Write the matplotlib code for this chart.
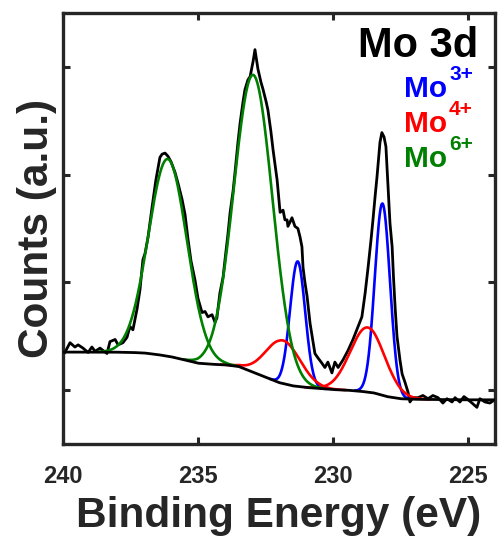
import numpy as np
import matplotlib
matplotlib.use("Agg")
import matplotlib.pyplot as plt

plt.rcParams['font.family'] = ['Liberation Sans', 'DejaVu Sans']
plt.rcParams['font.weight'] = 'bold'

# ---- measured spectrum (binding energy in eV, counts in arbitrary units) ----
energy = [239.93, 239.74, 239.56, 239.44, 239.26, 239.07, 238.93, 238.81, 238.63, 238.37,
          238.26, 238.07, 237.96, 237.78, 237.63, 237.52, 237.41, 237.26, 237.15, 237.04,
          236.96, 236.85, 236.70, 236.56, 236.41, 236.33, 236.22, 236.11, 236.00, 235.85,
          235.74, 235.59, 235.48, 235.37, 235.26, 235.11, 235.00, 234.85, 234.74, 234.63,
          234.48, 234.37, 234.30, 234.19, 234.07, 234.00, 233.89, 233.81, 233.70, 233.63,
          233.52, 233.44, 233.33, 233.26, 233.15, 233.07, 232.96, 232.89, 232.78, 232.67,
          232.59, 232.48, 232.41, 232.30, 232.22, 232.15, 232.07, 231.96, 231.85, 231.78,
          231.70, 231.67, 231.59, 231.52, 231.41, 231.30, 231.22, 231.15, 231.11, 231.04,
          230.96, 230.85, 230.74, 230.67, 230.56, 230.41, 230.30, 230.19, 230.04, 229.93,
          229.81, 229.63, 229.44, 229.26, 229.07, 228.93, 228.81, 228.70, 228.59, 228.52,
          228.44, 228.37, 228.26, 228.19, 228.11, 228.04, 227.96, 227.89, 227.81, 227.76,
          227.70, 227.63, 227.52, 227.44, 227.33, 227.22, 227.15, 227.04, 226.85, 226.67,
          226.48, 226.30, 226.11, 225.93, 225.78, 225.59, 225.48, 225.30, 225.15, 225.04,
          224.85, 224.67, 224.56, 224.37, 224.19, 224.07]
counts = [0.35, 0.44, 0.40, 0.42, 0.39, 0.35, 0.40, 0.36, 0.39, 0.34,
          0.45, 0.47, 0.42, 0.44, 0.49, 0.59, 0.56, 0.75, 0.93, 1.21,
          1.27, 1.42, 1.70, 1.95, 2.16, 2.19, 2.20, 2.17, 2.12, 2.02,
          1.92, 1.77, 1.63, 1.40, 1.20, 1.02, 0.85, 0.72, 0.73, 0.68,
          0.70, 0.63, 0.67, 0.90, 1.05, 1.21, 1.45, 1.65, 1.85, 2.02,
          2.30, 2.48, 2.68, 2.79, 2.88, 2.91, 3.05, 3.16, 2.98, 2.86,
          2.79, 2.68, 2.60, 2.40, 2.23, 2.10, 1.95, 1.65, 1.67, 1.58,
          1.58, 1.52, 1.56, 1.60, 1.52, 1.50, 1.42, 1.33, 1.14, 1.00,
          0.87, 0.62, 0.45, 0.34, 0.30, 0.25, 0.21, 0.26, 0.16, 0.26,
          0.21, 0.28, 0.37, 0.47, 0.59, 0.68, 0.90, 1.14, 1.40, 1.58,
          1.80, 1.98, 2.30, 2.39, 2.35, 2.26, 1.89, 1.55, 1.33, 1.05,
          0.77, 0.50, 0.28, 0.15, 0.07, -0.02, -0.11, -0.07, -0.07, -0.05,
          -0.08, -0.05, -0.07, -0.12, -0.08, -0.11, -0.07, -0.11, -0.06, -0.08,
          -0.12, -0.16, -0.08, -0.11, -0.12, -0.10]

# ---- Shirley background ----
bg_energy = [240.0, 239.0, 238.0, 237.5, 237.0, 236.5, 236.0, 235.5, 235.0, 234.5,
             234.0, 233.5, 233.0, 232.5, 232.0, 231.5, 231.0, 230.5, 230.0, 229.5,
             229.0, 228.5, 228.0, 227.5, 227.0, 226.0, 225.0, 224.0]
bg_counts = [0.353, 0.353, 0.352, 0.350, 0.345, 0.330, 0.310, 0.280, 0.250, 0.240,
             0.235, 0.220, 0.170, 0.120, 0.070, 0.040, 0.025, 0.015, 0.005, 0.000,
             -0.010, -0.025, -0.060, -0.080, -0.085, -0.088, -0.090, -0.090]

# ---- fitted components: (centre eV, height, FWHM eV) ----
mo3_peaks = [(228.17, 1.78, 0.66), (231.31, 1.16, 0.66)]
mo4_peaks = [(228.72, 0.60, 1.50), (231.85, 0.40, 1.50)]
mo6_peaks = [(232.95, 2.76, 1.68), (236.12, 1.83, 1.68)]

species = ['Mo', 'Mo', 'Mo']
charges = ['3+', '4+', '6+']
colors = ['#0000ff', '#ff0000', '#008000']

xticks = [240, 235, 230, 225]
yticks = [0, 1, 2, 3]

fig = plt.figure(figsize=(4.98, 5.46), dpi=100)
ax = fig.add_axes([63 / 498, 1 - 444 / 546, 432 / 498, 431 / 546])

ax.plot(energy, counts, color='black', lw=2.0, zorder=2)

grid = np.linspace(240, 224, 1601)
bg_grid = np.interp(grid, bg_energy[::-1], bg_counts[::-1])
for peaks, col in zip([mo3_peaks, mo4_peaks, mo6_peaks], colors):
    for c, h, w in peaks:
        s = w / 2.3548
        m = np.abs(grid - c) < 3.6 * s
        g = h * np.exp(-0.5 * ((grid[m] - c) / s) ** 2)
        ax.plot(grid[m], bg_grid[m] + g, color=col, lw=1.9, zorder=3)
ax.plot(grid, bg_grid, color='black', lw=2.0, zorder=4)

ax.set_xlim(240, 224)
ax.set_ylim(-0.5, 3.5)
ax.set_xticks(xticks)
ax.set_xticklabels([str(t) for t in xticks])
ax.set_yticks(yticks)
ax.set_yticklabels([])
axcol = '#262626'
for sp in ax.spines.values():
    sp.set_linewidth(2.4)
    sp.set_color(axcol)
ax.tick_params(direction='in', length=5, width=2.2, top=True, right=True,
               colors=axcol, labelsize=17, pad=15)
for lab in ax.get_xticklabels():
    lab.set_fontweight('bold')

ax.set_xlabel('Binding Energy (eV)', fontsize=30.5, fontweight='bold', color=axcol, labelpad=6)
ax.set_ylabel('Counts (a.u.)', fontsize=30.5, fontweight='bold', color=axcol)
ax.yaxis.set_label_coords(-0.013, 0.5)

def ax_x(px):
    return (px - 63) / 432

def ax_y(py):
    return 1 - (py - 13) / 431

ax.text(ax_x(478), ax_y(56.7), 'Mo 3d', transform=ax.transAxes, ha='right', va='baseline',
        fontsize=30, fontweight='bold', color='black')
base = [96.7, 131.7, 166.7]
for sp_, ch, col, b in zip(species, charges, colors, base):
    ax.text(ax_x(447), ax_y(b), sp_, transform=ax.transAxes, ha='right', va='baseline',
            fontsize=21.5, fontweight='bold', color=col)
    ax.text(ax_x(449), ax_y(b - 16.7), ch, transform=ax.transAxes, ha='left', va='baseline',
            fontsize=15, fontweight='bold', color=col)

fig.savefig('out.png', dpi=100)
